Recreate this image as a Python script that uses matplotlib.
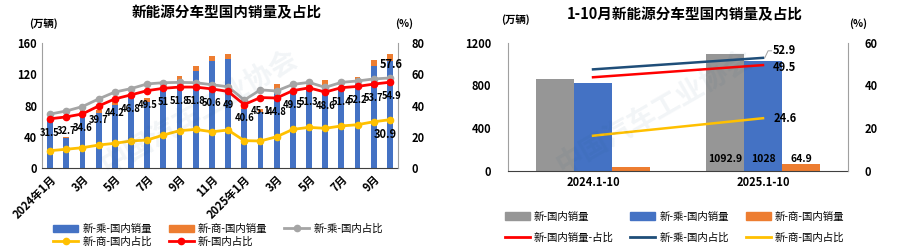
import numpy as np
import matplotlib
matplotlib.use("Agg")
import matplotlib.pyplot as plt
from matplotlib.lines import Line2D
from matplotlib.patches import Patch

plt.rcParams['font.family'] = ['Noto Sans CJK SC', 'DejaVu Sans']

# 月度数据 2024年1月 - 2025年10月
months = ["2024年1月", "2月", "3月", "4月", "5月", "6月", "7月", "8月", "9月", "10月", "11月", "12月",
          "2025年1月", "2月", "3月", "4月", "5月", "6月", "7月", "8月", "9月", "10月"]
cheng_sales = [62, 38, 72, 70, 81, 91, 85, 100, 113, 124.5, 137.5, 139,
               76, 72, 101, 97, 103, 106, 102, 112, 130, 137.5]
shang_sales = [1, 2, 3.5, 4, 5, 2, 4, 3, 5, 6, 6, 7,
               3, 4, 7, 3, 3, 6.5, 2, 5, 8, 8.5]
cheng_share = [34.5, 36.5, 39.3, 44.2, 48.6, 50.8, 53.8, 54.6, 54.8, 54.6, 53.3, 52,
               43.5, 50, 49.3, 53.5, 54.8, 51.6, 54.8, 55.7, 57, 57.6]
shang_share = [11.1, 12, 13, 14.7, 15.8, 17.3, 17.9, 21.1, 23.9, 24.7, 23.2, 24.3,
               17.5, 17.3, 20, 24.7, 26, 25.4, 26.9, 27.7, 29.6, 30.9]
nev_share = [31.5, 32.7, 34.6, 39.7, 44.2, 46.8, 49.5, 51, 51.8, 51.8, 50.6, 49,
             40.6, 45.1, 44.8, 49.5, 51.3, 48.6, 51.4, 52.2, 53.7, 54.9]

# 1-10月累计
periods = ["2024.1-10", "2025.1-10"]
nev_total = [862.5, 1092.9]
cheng_total = [823.5, 1028]
shang_total = [39, 64.9]
nev_total_share = [43.8, 49.5]
cheng_total_share = [47.5, 52.9]
shang_total_share = [16.4, 24.6]

BLUE = "#4472C4"
ORANGE = "#ED7D31"
GRAY = "#A5A5A5"
GRAYBAR = "#969696"
RED = "#FF0000"
YELLOW = "#FFC000"
NAVY = "#1F4E79"

fig = plt.figure(figsize=(9.09, 2.49), dpi=100)

# ---------------- 左图 ----------------
ax = fig.add_axes([0.0462, 0.3253, 0.3916, 0.502])
x = np.arange(len(months))
ax.bar(x, cheng_sales, width=0.36, color=BLUE, zorder=2)
ax.bar(x, shang_sales, width=0.36, bottom=cheng_sales, color=ORANGE, zorder=2)
ax.set_xlim(-0.5, len(months) - 0.5)
ax.set_ylim(0, 160)
ax.set_yticks([0, 40, 80, 120, 160])
ax.set_xticks(x[::2])
ax.set_xticklabels(months[::2], rotation=45, ha="right", rotation_mode="anchor")
ax.tick_params(length=0, labelsize=8)
for lab in ax.get_xticklabels() + ax.get_yticklabels():
    lab.set_fontweight("bold")
ax.spines["top"].set_visible(False)
ax.spines["right"].set_visible(False)
ax.spines["left"].set_color("#A0A0A0")
ax.spines["bottom"].set_color("#404040")

ax2 = ax.twinx()
ax2.set_ylim(0, 80)
ax2.set_yticks([0, 20, 40, 60, 80])
ax2.tick_params(length=0, labelsize=8, pad=10)
for lab in ax2.get_yticklabels():
    lab.set_fontweight("bold")
for s in ["top", "left", "bottom"]:
    ax2.spines[s].set_visible(False)
ax2.spines["right"].set_color("#A0A0A0")
ax2.plot(x, cheng_share, color=GRAY, lw=2, marker="o", ms=4.5, zorder=3)
ax2.plot(x, shang_share, color=YELLOW, lw=2, marker="o", ms=4.5, zorder=3)
ax2.plot(x, nev_share, color=RED, lw=2, marker="o", ms=4.5, zorder=4)
for xi, v in zip(x[:-1], nev_share[:-1]):
    ax2.annotate(f"{v:g}", (xi, v), xytext=(0, -10), textcoords="offset points",
                 ha="center", va="center", fontsize=6.8, fontweight="bold")
ax2.annotate(f"{nev_share[-1]:g}", (x[-1], nev_share[-1]), xytext=(1, -10),
             textcoords="offset points", ha="center", va="center", fontsize=6.8, fontweight="bold")
ax2.annotate(f"{cheng_share[-1]:g}", (x[-1], cheng_share[-1]), xytext=(1, 10),
             textcoords="offset points", ha="center", va="center", fontsize=8, fontweight="bold")
ax2.annotate(f"{shang_share[-1]:g}", (x[-1], shang_share[-1]), xytext=(-3, -11),
             textcoords="offset points", ha="center", va="center", fontsize=8, fontweight="bold")

fig.text(0.249, 0.952, "新能源分车型国内销量及占比", ha="center", va="center",
         fontsize=10.5, fontweight="bold")
fig.text(0.048, 0.905, "(万辆)", ha="center", va="center", fontsize=7.5, fontweight="bold")
fig.text(0.445, 0.905, "(%)", ha="center", va="center", fontsize=7.5, fontweight="bold")

h_left = [Patch(color=BLUE), Line2D([], [], color=YELLOW, lw=2, marker="o", ms=4.5),
          Patch(color=ORANGE), Line2D([], [], color=RED, lw=2, marker="o", ms=4.5),
          Line2D([], [], color=GRAY, lw=2, marker="o", ms=4.5)]
l_left = ["新-乘-国内销量", "新-商-国内占比", "新-商-国内销量", "新-国内占比", "新-乘-国内占比"]
fig.legend(h_left, l_left, ncol=3, loc="center", bbox_to_anchor=(0.24, 0.055),
           frameon=False, fontsize=7.5, handlelength=2.4, columnspacing=1.6,
           labelspacing=0.25, handletextpad=0.4)

# ---------------- 右图 ----------------
bx = fig.add_axes([0.5589, 0.3145, 0.374, 0.514])
xp = np.arange(len(periods))
w = 0.224
bx.bar(xp - w, nev_total, width=w, color=GRAYBAR, zorder=2)
bx.bar(xp, cheng_total, width=w, color=BLUE, zorder=2)
bx.bar(xp + w, shang_total, width=w, color=ORANGE, zorder=2)
bx.set_xlim(-0.5, 1.5)
bx.set_ylim(0, 1200)
bx.set_yticks([0, 400, 800, 1200])
bx.set_xticks(xp)
bx.set_xticklabels(periods)
bx.tick_params(length=0, labelsize=8)
bx.tick_params(axis="y", pad=12)
for lab in bx.get_xticklabels() + bx.get_yticklabels():
    lab.set_fontweight("bold")
bx.spines["top"].set_visible(False)
bx.spines["right"].set_visible(False)
bx.spines["left"].set_color("#A0A0A0")
bx.spines["bottom"].set_color("#404040")
for off, vals in zip([-w, 0, w], [nev_total, cheng_total, shang_total]):
    bx.text(1 + off, 110, f"{vals[1]:g}", ha="center", va="center", fontsize=7.5,
            fontweight="bold", zorder=5)

bx2 = bx.twinx()
bx2.set_ylim(0, 60)
bx2.set_yticks([0, 20, 40, 60])
bx2.tick_params(length=0, labelsize=8, pad=12)
for lab in bx2.get_yticklabels():
    lab.set_fontweight("bold")
for s in ["top", "left", "bottom"]:
    bx2.spines[s].set_visible(False)
bx2.spines["right"].set_color("#A0A0A0")
bx2.plot(xp, nev_total_share, color=RED, lw=1.8, zorder=3)
bx2.plot(xp, cheng_total_share, color=NAVY, lw=1.8, zorder=3)
bx2.plot(xp, shang_total_share, color=YELLOW, lw=1.8, zorder=3)
for vals, dy in zip([cheng_total_share, nev_total_share, shang_total_share], [3.3, -1.2, 0]):
    bx2.text(xp[-1] + 0.06, vals[-1] + dy, f"{vals[-1]:g}", ha="left", va="center",
             fontsize=8, fontweight="bold", zorder=5)
bx2.plot([xp[-1] + 0.01, xp[-1] + 0.03, xp[-1] + 0.05],
         [cheng_total_share[-1], cheng_total_share[-1] + 3.3, cheng_total_share[-1] + 3.3],
         color="#A0A0A0", lw=0.7, zorder=4)

fig.text(0.753, 0.944, "1-10月新能源分车型国内销量及占比", ha="center", va="center",
         fontsize=10.5, fontweight="bold")
fig.text(0.567, 0.92, "(万辆)", ha="center", va="center", fontsize=7.5, fontweight="bold")
fig.text(0.944, 0.905, "(%)", ha="center", va="center", fontsize=7.5, fontweight="bold")

h_right = [Patch(color=GRAYBAR), Line2D([], [], color=RED, lw=2),
           Patch(color=BLUE), Line2D([], [], color=NAVY, lw=2),
           Patch(color=ORANGE), Line2D([], [], color=YELLOW, lw=2)]
l_right = ["新-国内销量", "新-国内销量-占比", "新-乘-国内销量", "新-乘-国内占比",
           "新-商-国内销量", "新-商-国内占比"]
fig.legend(h_right, l_right, ncol=3, loc="center", bbox_to_anchor=(0.742, 0.088),
           frameon=False, fontsize=7.5, handlelength=2.4, columnspacing=1.6,
           labelspacing=1.0, handletextpad=0.4)

# 水印
for xw, yw in [(0.22, 0.55), (0.72, 0.55)]:
    fig.text(xw, yw, "中国汽车工业协会", ha="center", va="center", fontsize=20,
             rotation=30, color="#1F4E79", alpha=0.06, fontweight="bold")

fig.savefig("out.png", dpi=100)
